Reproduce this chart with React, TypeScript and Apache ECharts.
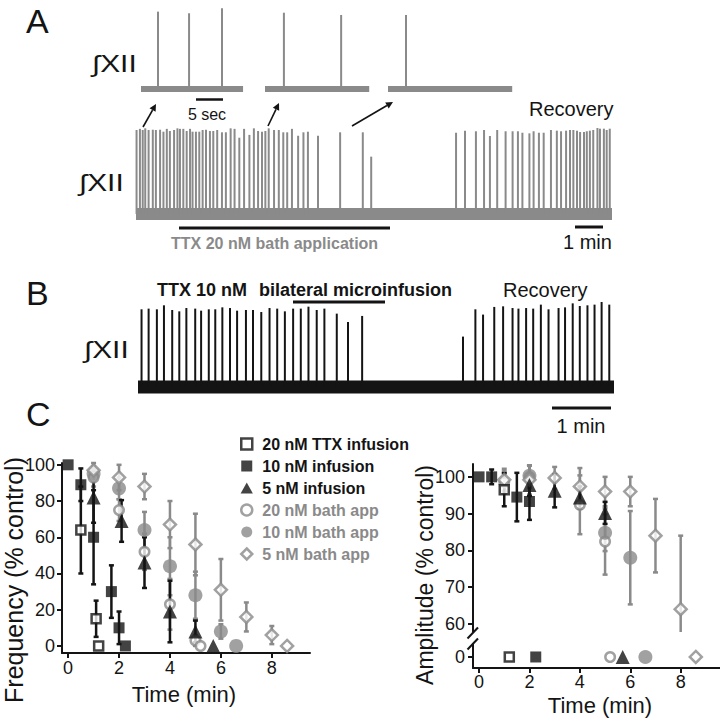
import React, { useEffect, useRef } from "react";
import * as echarts from "echarts";

const INK = "#141414";
const GREY = "#8a8a8a";
const FONT = "'Liberation Sans', Arial, Helvetica, sans-serif";

// ---------- Panel A: expanded insets (time in s, burst amplitude in % of max)
const insetDurations = [18.9, 19.3, 23.0];
const insetLefts = [141, 265, 388];
const inset1Times = [3.15, 8.9, 15.0];
const inset1Amps = [95.5, 93.5, 99.6];
const inset2Times = [3.5, 14.1];
const inset2Amps = [94.2, 91.4];
const inset3Times = [3.33];
const inset3Amps = [91.4];

// ---------- Panel A: full XII trace (time in min)
const traceADuration = 17;
const traceATimes = [
  0.02, 0.14, 0.24, 0.33, 0.45, 0.6, 0.71, 0.86, 0.98, 1.1,
  1.21, 1.36, 1.48, 1.57, 1.69, 1.81, 1.93, 2.02, 2.14, 2.26,
  2.38, 2.5, 2.64, 2.76, 2.9, 3.07, 3.21, 3.38, 3.52, 3.69,
  3.86, 4.05, 4.21, 4.36, 4.5, 4.62, 4.74, 4.93, 5.1, 5.26,
  5.4, 5.57, 5.79, 5.98, 6.14, 6.5, 7.29, 8.1, 8.4,
  11.43, 11.75, 12.14, 12.43, 12.64, 12.9, 13.2, 13.45, 13.64, 13.8,
  14.05, 14.2, 14.39, 14.56, 14.82, 15.03, 15.18, 15.36, 15.5, 15.62,
  15.75, 15.86, 16.0, 16.1, 16.21, 16.33, 16.48, 16.57, 16.71, 16.81, 16.92,
];
const traceAAmps = [
  97.7, 99, 97.7, 99.6, 97.7, 98, 97.7, 98, 95.7, 99,
  96.5, 97.7, 99.6, 99, 99, 96.5, 99, 95.7, 95.7, 95.7,
  97.7, 98, 96.5, 96.5, 97.7, 95, 95, 99.6, 99, 88.7,
  99, 92, 99.6, 96.5, 95.7, 96.5, 99.6, 97.7, 97.7, 95,
  95, 99, 91, 95, 95.7, 91, 95, 95, 66.7,
  94.5, 96.9, 96.2, 97.7, 90.7, 97.7, 96.2, 96.2, 96.2, 94.5,
  93.8, 96.2, 94.5, 94.5, 97.7, 96.9, 96.2, 96.9, 97.7, 97.7,
  96.9, 95.3, 95.3, 96.2, 96.9, 97.7, 100, 99.2, 99.2, 97.7, 99.2,
];

// ---------- Panel B: XII trace (time in min)
const traceBDuration = 8.07;
const traceBTimes = [
  0.06, 0.18, 0.32, 0.44, 0.58, 0.7, 0.82, 0.97, 1.07, 1.2,
  1.31, 1.43, 1.56, 1.68, 1.83, 1.95, 2.09, 2.23, 2.36, 2.49,
  2.63, 2.76, 2.89, 3.03, 3.16, 3.37, 3.56, 3.8,
  5.51, 5.72, 5.85, 6.04, 6.19, 6.35, 6.45, 6.58, 6.7, 6.83,
  6.96, 7.13, 7.24, 7.37, 7.49, 7.62, 7.74, 7.86, 7.99,
];
const traceBAmps = [
  91.4, 92.2, 91.4, 96.1, 90.6, 89, 92.9, 92.2, 89.8, 91.4,
  91.4, 93.7, 92.9, 89.8, 90.6, 90.6, 88.2, 92.9, 92.2, 89,
  92.2, 92.2, 94.5, 90.6, 92.2, 86.3, 76.5, 83.6,
  59.3, 91.4, 85.2, 94.2, 94.9, 92.9, 92.2, 92.9, 92.2, 96.9,
  91.4, 92.9, 93.7, 98.4, 95.3, 96.1, 96.9, 100, 96.9,
];

// ---------- Panel C
const seriesNames = [
  "20 nM TTX infusion",
  "10 nM infusion",
  "5 nM infusion",
  "20 nM bath app",
  "10 nM bath app",
  "5 nM bath app",
];
// time (min) at which bursting stopped (plotted at 0)
const stopTimes = [1.2, 2.25, 5.7, 5.2, 6.6, 8.6];

const freqTimes = [
  [0.5, 1.1],
  [0, 0.5, 1.0, 1.7, 2.0],
  [1.0, 2.1, 3.0, 4.0, 5.0],
  [1, 2, 3, 4, 5],
  [1, 2, 3, 4, 5, 6],
  [1, 2, 3, 4, 5, 6, 7, 8],
];
const freqValues = [
  [64, 15],
  [100, 89, 60, 30, 10],
  [82, 69, 46, 19, 8],
  [93, 75, 52, 23, 3],
  [95, 87, 64, 44, 28, 8],
  [97, 93, 88, 67, 56, 31, 16, 6],
];
const freqErrors = [
  [24, 10],
  [0, 9, 26, 14.5, 9],
  [14, 11.5, 14, 17, 6],
  [5, 6, 10, 14, 3],
  [4, 6, 10, 16, 13, 4],
  [4, 7, 7, 13, 17, 17, 8, 5],
];

const ampTimes = [
  [1.0],
  [0, 0.5, 1.5, 2.0],
  [2, 3, 4, 5],
  [1, 2, 4, 5],
  [2, 5, 6],
  [1, 2, 3, 4, 5, 6, 7, 8],
];
const ampValues = [
  [96.5],
  [100, 100, 94.5, 93.3],
  [97.8, 96.2, 94.4, 90.2],
  [98.5, 100, 92.4, 82.4],
  [100.3, 84.8, 78],
  [99.2, 99.2, 99.7, 97.4, 96, 96, 84, 64],
];
const ampErrors = [
  [4.5],
  [0, 2, 6.6, 5],
  [3, 4.5, 3, 3],
  [3, 3, 8, 9],
  [3, 5, 12.7],
  [3, 4, 3, 5, 4, 4, 10, 20],
];

const freqTicks = [0, 20, 40, 60, 80, 100];
const ampTicks = [60, 70, 80, 90, 100];
const timeTicks = [0, 2, 4, 6, 8];

// ---------- marker styling
const symbols = ["rect", "rect", "triangle", "circle", "circle", "diamond"];
const symbolSizes = [9, 11, 14, 9.5, 14, 12];
const seriesColors = [INK, INK, INK, GREY, GREY, GREY];
const hollow = [true, false, false, true, false, true];
const SQUARE_ICON = "path://M0,0L10,0L10,10L0,10Z";
const TRI_ICON = "path://M5,0L10,9L0,9Z";
const DIAMOND_ICON = "path://M5,0L10,5L5,10L0,5Z";
const legendIcons = [SQUARE_ICON, SQUARE_ICON, TRI_ICON, "circle", "circle", DIAMOND_ICON];

function markerStyle(i: number) {
  return hollow[i]
    ? { color: "#ffffff", borderColor: seriesColors[i], borderWidth: 2.5 }
    : { color: seriesColors[i], borderColor: seriesColors[i], borderWidth: 0 };
}

const spikeRender = (color: string, width: number) => (_p: any, api: any) => {
  const t = api.value(0);
  const a = api.value(1);
  const p0 = api.coord([t, 0]);
  const p1 = api.coord([t, a]);
  return {
    type: "line",
    shape: { x1: p0[0], y1: p0[1], x2: p1[0], y2: p1[1] },
    style: { stroke: color, lineWidth: width },
  };
};

const errRender = (color: string) => (_p: any, api: any) => {
  const x = api.value(0);
  const y = api.value(1);
  const e = api.value(2);
  if (!e) return { type: "group", children: [] };
  const top = api.coord([x, y + e]);
  const bot = api.coord([x, y - e]);
  const hw = 2.5;
  const st = { stroke: color, lineWidth: 2.5 };
  return {
    type: "group",
    children: [
      { type: "line", shape: { x1: top[0], y1: top[1], x2: bot[0], y2: bot[1] }, style: st },
      { type: "line", shape: { x1: top[0] - hw, y1: top[1], x2: top[0] + hw, y2: top[1] }, style: st },
      { type: "line", shape: { x1: bot[0] - hw, y1: bot[1], x2: bot[0] + hw, y2: bot[1] }, style: st },
    ],
  };
};

function txt(text: string, x: number, y: number, size: number, extra: any = {}) {
  const align = extra.align || "left";
  return {
    type: "text",
    x,
    y,
    rotation: extra.rotation || 0,
    scaleX: extra.scaleX || 1,
    silent: true,
    z: 20,
    style: {
      text,
      fontSize: size,
      fontFamily: FONT,
      fontWeight: extra.bold ? "bold" : "normal",
      fill: extra.color || INK,
      align,
      textAlign: align,
      verticalAlign: "middle",
      textVerticalAlign: "middle",
    },
  };
}

function seg(x1: number, y1: number, x2: number, y2: number, w: number, color = INK) {
  return { type: "line", silent: true, z: 20, shape: { x1, y1, x2, y2 }, style: { stroke: color, lineWidth: w } };
}

function arrow(x1: number, y1: number, x2: number, y2: number) {
  const dx = x2 - x1;
  const dy = y2 - y1;
  const len = Math.sqrt(dx * dx + dy * dy);
  const ux = dx / len;
  const uy = dy / len;
  const L = 7;
  const W = 3.5;
  const bx = x2 - ux * L;
  const by = y2 - uy * L;
  return [
    seg(x1, y1, bx, by, 1.6),
    {
      type: "polygon",
      silent: true,
      z: 20,
      shape: { points: [[x2, y2], [bx - uy * W, by + ux * W], [bx + uy * W, by - ux * W]] },
      style: { fill: INK },
    },
  ];
}

function buildOption() {
  const PX_PER_SEC = 5.4;
  const grids: any[] = [];
  const xAxes: any[] = [];
  const yAxes: any[] = [];
  const series: any[] = [];

  const hiddenX = (max: number, gi: number) => ({ type: "value", gridIndex: gi, min: 0, max, show: false });
  const hiddenY = (gi: number) => ({ type: "value", gridIndex: gi, min: 0, max: 100, show: false });

  // insets 0..2
  const insetTimes = [inset1Times, inset2Times, inset3Times];
  const insetAmps = [inset1Amps, inset2Amps, inset3Amps];
  insetDurations.forEach((d, i) => {
    grids.push({ left: insetLefts[i], top: 8, width: d * PX_PER_SEC, height: 81 });
    xAxes.push(hiddenX(d, i));
    yAxes.push(hiddenY(i));
    series.push({
      type: "line", xAxisIndex: i, yAxisIndex: i, data: [[0, 0], [d, 0]], showSymbol: false, silent: true,
      clip: false, lineStyle: { color: GREY, width: 6, cap: "butt" }, z: 1,
    });
    series.push({
      type: "custom", xAxisIndex: i, yAxisIndex: i, silent: true,
      data: insetTimes[i].map((t, k) => [t, insetAmps[i][k]]),
      renderItem: spikeRender(GREY, 2), z: 2,
    });
  });

  // main A trace: 3
  grids.push({ left: 136, top: 128, width: 476, height: 86 });
  xAxes.push(hiddenX(traceADuration, 3));
  yAxes.push(hiddenY(3));
  series.push({
    type: "line", xAxisIndex: 3, yAxisIndex: 3, data: [[0, 0], [traceADuration, 0]], showSymbol: false, silent: true,
    clip: false, lineStyle: { color: GREY, width: 12, cap: "butt" }, z: 1,
  });
  series.push({
    type: "custom", xAxisIndex: 3, yAxisIndex: 3, silent: true,
    data: traceATimes.map((t, k) => [t, traceAAmps[k]]),
    renderItem: spikeRender(GREY, 2), z: 2,
  });

  // B trace: 4
  grids.push({ left: 138, top: 302, width: 476, height: 85 });
  xAxes.push(hiddenX(traceBDuration, 4));
  yAxes.push(hiddenY(4));
  series.push({
    type: "line", xAxisIndex: 4, yAxisIndex: 4, data: [[0, 0], [traceBDuration, 0]], showSymbol: false, silent: true,
    clip: false, lineStyle: { color: INK, width: 13, cap: "butt" }, z: 1,
  });
  series.push({
    type: "custom", xAxisIndex: 4, yAxisIndex: 4, silent: true,
    data: traceBTimes.map((t, k) => [t, traceBAmps[k]]),
    renderItem: spikeRender(INK, 2), z: 2,
  });

  // Panel C grids 5 (freq), 6 (amp top), 7 (amp zero row)
  grids.push({ left: 62, top: 463, width: 248, height: 190 });
  grids.push({ left: 473, top: 464, width: 247, height: 168 });
  grids.push({ left: 473, top: 644, width: 247, height: 24 });

  const axLine = { show: true, onZero: false, lineStyle: { color: INK, width: 2 } };
  const label = (vals: number[], margin: number) => ({
    show: true, color: INK, fontSize: 18, fontFamily: FONT, margin, customValues: vals,
  });
  const tick = (vals: number[]) => ({ show: true, inside: false, length: 5, lineStyle: { color: INK, width: 2 }, customValues: vals });

  xAxes.push({
    type: "value", gridIndex: 5, min: -0.24, max: 9.5, axisLine: axLine, axisTick: tick(timeTicks),
    axisLabel: label(timeTicks, 6), splitLine: { show: false },
  });
  yAxes.push({
    type: "value", gridIndex: 5, min: -3.9, max: 101, axisLine: axLine, axisTick: tick(freqTicks),
    axisLabel: label(freqTicks, 7), splitLine: { show: false },
  });
  xAxes.push({ type: "value", gridIndex: 6, min: -0.24, max: 9.56, show: false });
  yAxes.push({
    type: "value", gridIndex: 6, min: 57.79, max: 103.5, axisLine: axLine, axisTick: tick(ampTicks),
    axisLabel: label(ampTicks, 8), splitLine: { show: false },
  });
  xAxes.push({
    type: "value", gridIndex: 7, min: -0.24, max: 9.56, axisLine: axLine, axisTick: tick(timeTicks),
    axisLabel: label(timeTicks, 5), splitLine: { show: false },
  });
  yAxes.push({
    type: "value", gridIndex: 7, min: -3, max: 3.53, axisLine: axLine, axisTick: tick([0]),
    axisLabel: label([0], 8), splitLine: { show: false },
  });

  const order = [3, 4, 5, 0, 1, 2]; // grey drawn first, black on top
  order.forEach((i) => {
    const name = seriesNames[i];
    const zMark = seriesColors[i] === INK ? 6 : 5;
    const common = {
      symbol: symbols[i], symbolSize: symbolSizes[i], itemStyle: markerStyle(i), silent: true, z: zMark,
    };
    // frequency
    series.push({
      type: "custom", name: name + " (sem)", xAxisIndex: 5, yAxisIndex: 5, silent: true, z: 3,
      data: freqTimes[i].map((t, k) => [t, freqValues[i][k], freqErrors[i][k]]),
      renderItem: errRender(seriesColors[i]),
    });
    series.push({
      type: "scatter", name, xAxisIndex: 5, yAxisIndex: 5, ...common,
      data: [...freqTimes[i].map((t, k) => [t, freqValues[i][k]]), [stopTimes[i], 0]],
    });
    // amplitude
    series.push({
      type: "custom", name: name + " (amp sem)", xAxisIndex: 6, yAxisIndex: 6, silent: true, z: 3, clip: true,
      data: ampTimes[i].map((t, k) => [t, ampValues[i][k], ampErrors[i][k]]),
      renderItem: errRender(seriesColors[i]),
    });
    series.push({
      type: "scatter", name, xAxisIndex: 6, yAxisIndex: 6, ...common,
      data: ampTimes[i].map((t, k) => [t, ampValues[i][k]]),
    });
    series.push({
      type: "scatter", name, xAxisIndex: 7, yAxisIndex: 7, ...common,
      data: [[stopTimes[i], 0]],
    });
  });

  const graphics: any[] = [
    txt("A", 26, 21, 34),
    txt("B", 26, 293, 34),
    txt("C", 26, 414, 34),
    txt("\u222BXII", 92, 64, 23, { scaleX: 1.3 }),
    txt("\u222BXII", 79, 183, 23, { scaleX: 1.3 }),
    txt("\u222BXII", 84, 350, 23, { scaleX: 1.3 }),
    txt("5 sec", 207, 114, 16, { align: "center" }),
    seg(196, 99.5, 223, 99.5, 2.5),
    ...arrow(143, 127, 156, 104),
    ...arrow(268, 126, 279, 103),
    ...arrow(352, 126, 393, 102),
    txt("Recovery", 529, 109, 20),
    seg(179, 228, 390, 228, 3),
    txt("TTX 20 nM bath application", 171, 243, 16, { bold: true, color: GREY }),
    seg(575, 227, 603, 227, 3),
    txt("1 min", 563, 241.5, 20),
    txt("TTX 10 nM", 157, 290, 18, { bold: true }),
    txt("bilateral microinfusion", 259, 290, 18, { bold: true }),
    seg(293, 302, 385, 302, 3),
    txt("Recovery", 503, 290, 20),
    seg(552, 408, 611, 408, 3),
    txt("1 min", 581, 426, 20, { align: "center" }),
    txt("Frequency (% control)", 14, 580, 25, { align: "center", rotation: Math.PI / 2 }),
    txt("Amplitude (% control)", 425, 575, 23, { align: "center", rotation: Math.PI / 2 }),
    txt("Time (min)", 184, 694, 22, { align: "center" }),
    txt("Time (min)", 600, 705, 22, { align: "center" }),
    seg(467.5, 638.5, 478, 627.5, 2),
    seg(467.5, 649.5, 478, 638.5, 2),
  ];

  return {
    animation: false,
    backgroundColor: "#ffffff",
    grid: grids.map((g) => ({ ...g, containLabel: false, outerBoundsMode: "none" })),
    xAxis: xAxes,
    yAxis: yAxes,
    legend: {
      orient: "vertical",
      left: 235,
      top: 431,
      itemWidth: 21,
      itemHeight: 11,
      itemGap: 6,
      symbolKeepAspect: true,
      selectedMode: false,
      textStyle: { fontSize: 16, fontWeight: "bold", fontFamily: FONT, color: INK },
      data: seriesNames.map((n, i) => ({
        name: n,
        icon: legendIcons[i],
        itemStyle: markerStyle(i),
        textStyle: { color: seriesColors[i], fontWeight: "bold", fontSize: 16 },
      })),
    },
    graphic: graphics,
    series,
  };
}

export default function App() {
  const ref = useRef<HTMLDivElement>(null);
  useEffect(() => {
    if (!ref.current) return;
    const chart = echarts.init(ref.current, null, { renderer: "svg" });
    chart.setOption(buildOption() as any);
    return () => chart.dispose();
  }, []);
  return (
    <div
      ref={ref}
      style={{ position: "absolute", left: 0, top: 0, width: 720, height: 719, background: "#fff" }}
    />
  );
}
